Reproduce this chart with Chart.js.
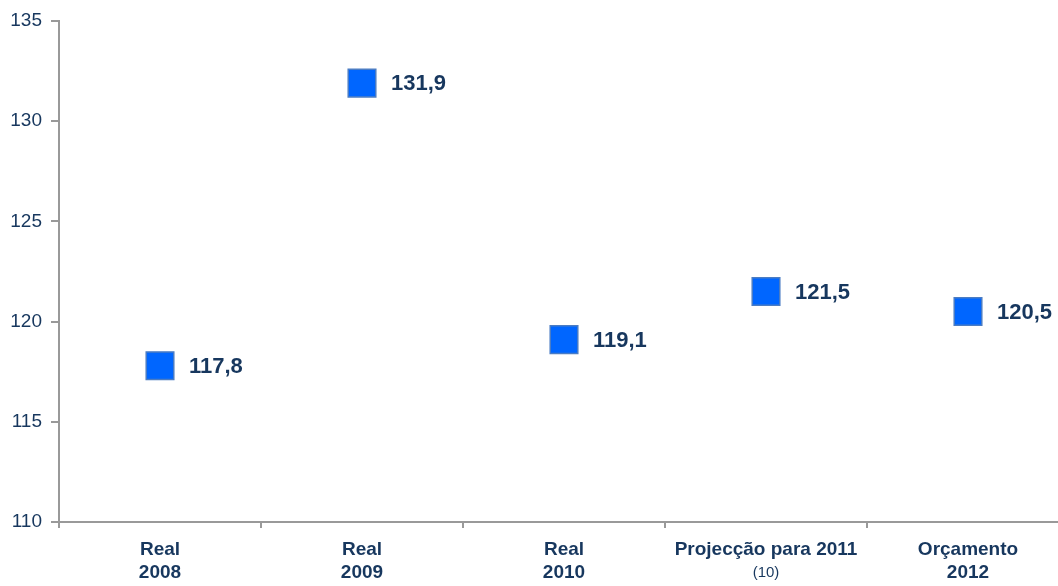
<!DOCTYPE html>
<html>
<head>
<meta charset="utf-8">
<script src="https://cdn.jsdelivr.net/npm/chart.js@4"></script>
<style>
  html, body { margin: 0; padding: 0; background: #fff; overflow: hidden; }
  #wrap { width: 1090px; height: 586px; position: relative; }
</style>
</head>
<body>
<div id="wrap"><canvas id="chart"></canvas></div>
<script>
const categories = ["Real 2008", "Real 2009", "Real 2010", "Projecção para 2011", "Orçamento 2012"];
const labelTop = ["Real", "Real", "Real", "Projecção para 2011", "Orçamento"];
const labelBottom = ["2008", "2009", "2010", "(10)", "2012"];
const bottomBold = [true, true, true, false, true];
const values = [117.8, 131.9, 119.1, 121.5, 120.5];
const valueLabels = ["117,8", "131,9", "119,1", "121,5", "120,5"];

const NAVY = "#17375e";
const FONT = '"Liberation Sans", Arial, sans-serif';

const pointLabels = {
  id: "pointLabels",
  afterDatasetsDraw(chart) {
    const ctx = chart.ctx;
    const meta = chart.getDatasetMeta(0);
    ctx.save();
    ctx.fillStyle = NAVY;
    ctx.font = "bold 22px " + FONT;
    ctx.textBaseline = "middle";
    ctx.textAlign = "left";
    meta.data.forEach((pt, i) => {
      ctx.fillText(valueLabels[i], pt.x + 29, pt.y + 1);
    });
    ctx.restore();
  },
};

const xLabels = {
  id: "xLabels",
  afterDraw(chart) {
    const ctx = chart.ctx;
    const x = chart.scales.x;
    const base = chart.chartArea.bottom;
    ctx.save();
    ctx.fillStyle = NAVY;
    ctx.textAlign = "center";
    ctx.textBaseline = "middle";
    categories.forEach((c, i) => {
      const px = x.getPixelForValue(i);
      ctx.font = "bold 19px " + FONT;
      ctx.fillText(labelTop[i], px, base + 28);
      ctx.font = bottomBold[i] ? "bold 19px " + FONT : "15px " + FONT;
      ctx.fillText(labelBottom[i], px, base + 51);
    });
    ctx.restore();
  },
};

new Chart(document.getElementById("chart"), {
  type: "line",
  data: {
    labels: categories,
    datasets: [
      {
        data: values,
        showLine: false,
        pointStyle: "rect",
        pointRadius: 19.5,
        pointHoverRadius: 19.5,
        pointBackgroundColor: "#0066ff",
        pointBorderColor: "#4a7cc4",
        pointBorderWidth: 1.5,
      },
    ],
  },
  options: {
    responsive: true,
    maintainAspectRatio: false,
    animation: false,
    layout: { padding: { top: 21, right: 0, bottom: 58, left: 0 } },
    plugins: {
      legend: { display: false },
      tooltip: { enabled: false },
    },
    scales: {
      x: {
        offset: true,
        grid: {
          offset: true,
          drawOnChartArea: false,
          drawTicks: true,
          tickLength: 6,
          color: "#999",
          lineWidth: 2,
        },
        border: { color: "#999", width: 2 },
        ticks: { display: false },
      },
      y: {
        min: 110,
        max: 135,
        ticks: {
          stepSize: 5,
          color: NAVY,
          font: { family: FONT, size: 19 },
          padding: 9,
        },
        grid: {
          drawOnChartArea: false,
          drawTicks: true,
          tickLength: 8,
          color: "#999",
          lineWidth: 2,
        },
        border: { color: "#999", width: 2 },
        afterFit(scale) { scale.width = 59; },
      },
    },
  },
  plugins: [pointLabels, xLabels],
});
</script>
</body>
</html>
